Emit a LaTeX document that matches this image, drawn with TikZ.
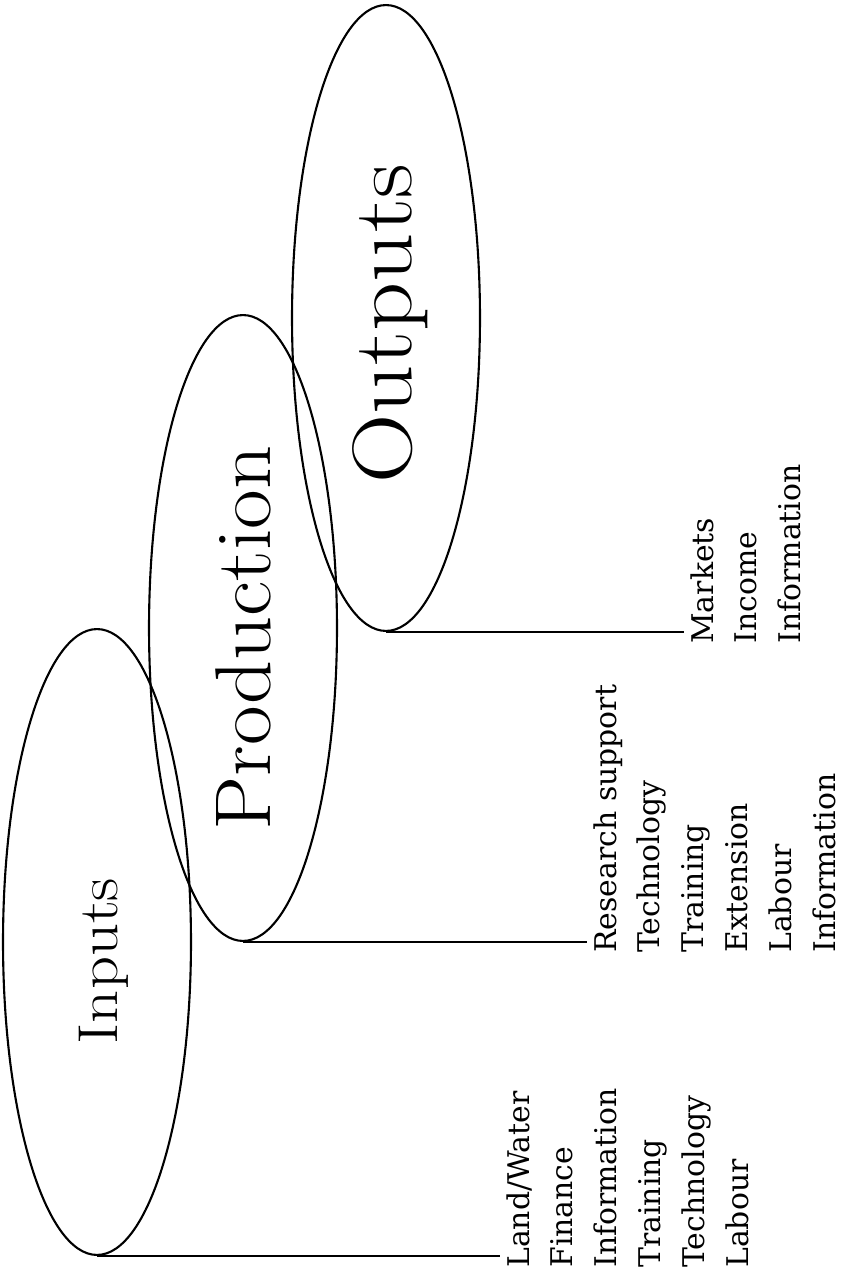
\documentclass[tikz,border=0pt]{standalone}
\usepackage{fontspec}
\newfontfamily\listfont{DejaVu Serif}
\usetikzlibrary{shapes.geometric}
\begin{document}
\begin{tikzpicture}[x=0.02cm, y=-0.02cm,
  oval/.style={ellipse, draw, line width=1.2pt, minimum width=3.76cm, minimum height=12.52cm, inner sep=0pt},
  biglabel/.style={rotate=90, anchor=base, inner sep=0pt},
  itemlist/.style={rotate=90, anchor=north west, align=left, inner sep=0pt,
    font=\listfont\fontsize{17pt}{25pt}\selectfont},
  link/.style={line width=1.6pt, shorten >=0.12cm}]
\useasboundingbox (0,0) rectangle (841,1280);
% ellipses
\node[oval] (inp)  at (97,942)  {};
\node[oval] (prod) at (243,628) {};
\node[oval] (outp) at (386,318) {};
% labels
\node[biglabel, font=\fontsize{32pt}{36pt}\selectfont] (inlab)   at (117,961) {\scalebox{1.15}[1]{Inputs}};
\node[biglabel, font=\fontsize{45pt}{50pt}\selectfont] (prodlab) at (270,638) {\scalebox{1.09}[1]{Production}};
\node[biglabel, font=\fontsize{48pt}{54pt}\selectfont] (outlab)  at (411,324) {\scalebox{1.14}[1]{Outputs}};
% lists
\node[itemlist] (inlist)   at (506,1268) {Land/Water\\Finance\\Information\\Training\\Technology\\Labour};
\node[itemlist] (prodlist) at (593,953)  {Research support\\Technology\\Training\\Extension\\Labour\\Information};
\node[itemlist] (outlist)  at (690,644)  {Markets\\Income\\Information};
% connectors
\draw[link] (inp.south)  -- (inp.south  -| inlist.north west);
\draw[link] (prod.south) -- (prod.south -| prodlist.north west);
\draw[link] (outp.south) -- (outp.south -| outlist.north west);
\end{tikzpicture}
\end{document}
